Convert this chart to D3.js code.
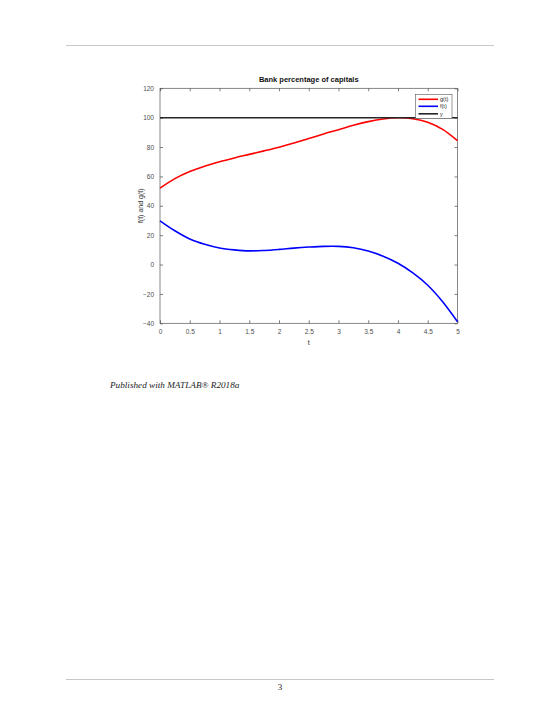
<!DOCTYPE html>
<html>
<head>
<meta charset="utf-8">
<script src="https://cdn.jsdelivr.net/npm/d3@7"></script>
<style>
html,body{margin:0;padding:0;background:#fff;}
svg{display:block;}
</style>
</head>
<body>
<svg id="c" width="560" height="725"></svg>
<script>
const tValues = [0,0.25,0.5,0.75,1,1.25,1.5,1.75,2,2.25,2.5,2.75,3,3.25,3.5,3.75,4,4.25,4.5,4.75,5];
const gValues = [52,58.5,63.3,67,70,72.6,75,77.4,79.9,82.7,85.8,88.9,91.8,94.8,97.3,99.1,99.9,99.3,96.9,92,84.3];
const fValues = [29.8,23,17.4,13.8,11.3,10,9.3,9.6,10.3,11.2,11.9,12.4,12.4,11.4,9.2,5.7,0.9,-5.7,-14.1,-25.3,-38.9];
const yLineValue = 100;
const xTicks = [0,0.5,1,1.5,2,2.5,3,3.5,4,4.5,5];
const yTicks = [-40,-20,0,20,40,60,80,100,120];
const seriesNames = ["g(t)","f(t)","y"];
const seriesColors = ["#ff0000","#0000ff","#262626"];

const svg = d3.select("#c");
const L = 160, R = 457.5, T = 88.3, B = 323.3;
const x = d3.scaleLinear().domain([0,5]).range([L,R]);
const y = d3.scaleLinear().domain([-40,120]).range([B,T]);
const axisColor = "#262626";
const tickColor = "#4d4d4d";

// page rules
svg.append("line").attr("x1",66).attr("x2",494).attr("y1",45.5).attr("y2",45.5).attr("stroke","#c8c8c8").attr("stroke-width",1);
svg.append("line").attr("x1",66).attr("x2",494).attr("y1",679.5).attr("y2",679.5).attr("stroke","#c8c8c8").attr("stroke-width",1);
svg.append("text").attr("x",280).attr("y",690).attr("text-anchor","middle")
  .attr("font-family","Liberation Serif, serif").attr("font-size",9).attr("fill","#222").text("3");
svg.append("text").attr("x",110).attr("y",388)
  .attr("font-family","Liberation Serif, serif").attr("font-style","italic").attr("font-size",9.2).attr("fill","#222")
  .text("Published with MATLAB® R2018a");

const g = svg.append("g");
const fontF = "Liberation Sans, Arial, sans-serif";

// axes with inside ticks
const axB = d3.axisBottom(x).tickValues(xTicks).tickSizeInner(-3).tickSizeOuter(0).tickPadding(6).tickFormat(d3.format("~g"));
const axT = d3.axisTop(x).tickValues(xTicks).tickSizeInner(-3).tickSizeOuter(0).tickFormat("");
const axL = d3.axisLeft(y).tickValues(yTicks).tickSizeInner(-3).tickSizeOuter(0).tickPadding(6).tickFormat(d3.format("~g"));
const axR = d3.axisRight(y).tickValues(yTicks).tickSizeInner(-3).tickSizeOuter(0).tickFormat("");

function style(sel){
  sel.select(".domain").remove();
  sel.selectAll(".tick line").attr("stroke",axisColor).attr("stroke-width",0.6);
  sel.selectAll(".tick text").attr("fill",tickColor).attr("font-family",fontF).attr("font-size",6.5);
}
g.append("g").attr("transform",`translate(0,${B})`).call(axB).call(style);
g.append("g").attr("transform",`translate(0,${T})`).call(axT).call(style);
g.append("g").attr("transform",`translate(${L},0)`).call(axL).call(style);
g.append("g").attr("transform",`translate(${R},0)`).call(axR).call(style);

// box
g.append("rect").attr("x",L).attr("y",T).attr("width",R-L).attr("height",B-T)
  .attr("fill","none").attr("stroke","#555").attr("stroke-width",0.7);

svg.append("clipPath").attr("id","clip").append("rect").attr("x",L-1).attr("y",T-1).attr("width",R-L+2).attr("height",B-T+2);

const line = d3.line().x((d,i)=>x(tValues[i])).y(d=>y(d)).curve(d3.curveCatmullRom);
const plot = g.append("g").attr("clip-path","url(#clip)");
plot.append("path").datum(gValues).attr("d",line).attr("fill","none").attr("stroke",seriesColors[0]).attr("stroke-width",1.6);
plot.append("path").datum(fValues).attr("d",line).attr("fill","none").attr("stroke",seriesColors[1]).attr("stroke-width",1.6);
plot.append("line").attr("x1",x(0)).attr("x2",x(5)).attr("y1",y(yLineValue)).attr("y2",y(yLineValue))
  .attr("stroke",seriesColors[2]).attr("stroke-width",1.6);

// title and labels
svg.append("text").attr("x",(L+R)/2).attr("y",82).attr("text-anchor","middle")
  .attr("font-family",fontF).attr("font-weight","bold").attr("font-size",7.5).attr("fill","#111").text("Bank percentage of capitals");
svg.append("text").attr("x",(L+R)/2).attr("y",345).attr("text-anchor","middle")
  .attr("font-family",fontF).attr("font-size",7).attr("fill","#333").text("t");
svg.append("text").attr("transform",`translate(143,${(T+B)/2}) rotate(-90)`).attr("text-anchor","middle")
  .attr("font-family",fontF).attr("font-size",7).attr("fill","#333").text("f(t) and g(t)");

// legend
const lg = svg.append("g");
lg.append("rect").attr("x",415.5).attr("y",94.5).attr("width",36.5).attr("height",24)
  .attr("fill","#fff").attr("stroke","#555").attr("stroke-width",0.6);
const rowsY = [99.3,106.3,113.8];
seriesNames.forEach((n,i)=>{
  lg.append("line").attr("x1",418.5).attr("x2",438).attr("y1",rowsY[i]).attr("y2",rowsY[i])
    .attr("stroke",seriesColors[i]).attr("stroke-width",1.6);
  lg.append("text").attr("x",440).attr("y",rowsY[i]+2).attr("font-family",fontF).attr("font-size",5.5)
    .attr("fill","#222").text(n);
});
</script>
</body>
</html>
